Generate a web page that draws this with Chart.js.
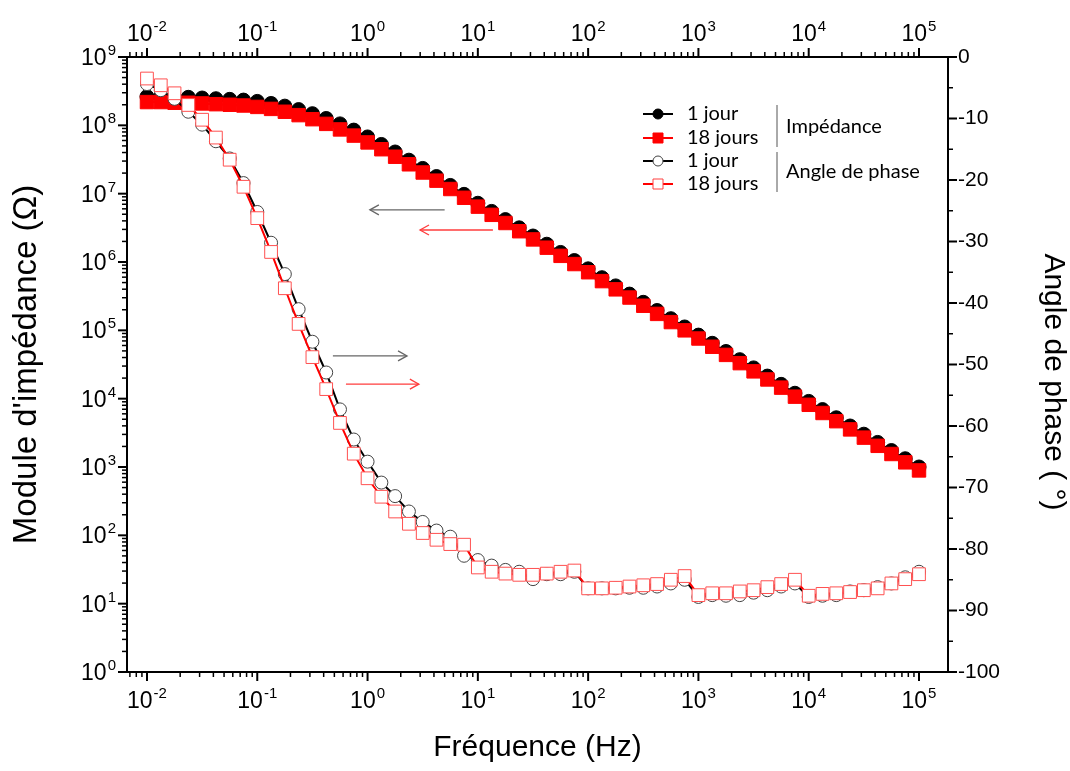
<!DOCTYPE html>
<html>
<head>
<meta charset="utf-8">
<script src="https://cdn.jsdelivr.net/npm/chart.js@4.4.1/dist/chart.umd.min.js"></script>
<style>
  html, body { margin: 0; padding: 0; background: #fff; }
  #graphique { display: block; }
</style>
</head>
<body>
<canvas id="graphique" width="1070" height="771"></canvas>
<script>
// Fréquences mesurées (8 points par décade)
const frequences = [0.01, 0.01334, 0.01778, 0.02371, 0.03162, 0.04217, 0.05623, 0.07499,
  0.1, 0.1334, 0.1778, 0.2371, 0.3162, 0.4217, 0.5623, 0.7499,
  1, 1.334, 1.778, 2.371, 3.162, 4.217, 5.623, 7.499,
  10, 13.34, 17.78, 23.71, 31.62, 42.17, 56.23, 74.99,
  100, 133.4, 177.8, 237.1, 316.2, 421.7, 562.3, 749.9,
  1000, 1334, 1778, 2371, 3162, 4217, 5623, 7499,
  10000, 13340, 17780, 23710, 31620, 42170, 56230, 74990,
  100000];

// Module d'impédance (Ohm)
const impedance1j = [2.63e8, 2.63e8, 2.57e8, 2.57e8, 2.51e8, 2.45e8, 2.40e8, 2.34e8,
  2.24e8, 2.09e8, 1.91e8, 1.70e8, 1.48e8, 1.26e8, 1.05e8, 8.51e7,
  6.76e7, 5.25e7, 4.07e7, 3.09e7, 2.34e7, 1.78e7, 1.32e7, 9.77e6,
  7.24e6, 5.50e6, 4.17e6, 3.16e6, 2.40e6, 1.82e6, 1.38e6, 1.05e6,
  7.94e5, 5.89e5, 4.47e5, 3.39e5, 2.57e5, 1.95e5, 1.48e5, 1.12e5,
  8.51e4, 6.46e4, 4.90e4, 3.72e4, 2.82e4, 2.14e4, 1.62e4, 1.20e4,
  9.12e3, 6.92e3, 5.25e3, 3.98e3, 3.02e3, 2.29e3, 1.74e3, 1.32e3,
  1.00e3];
const impedance18j = [2.19e8, 2.19e8, 2.14e8, 2.14e8, 2.09e8, 2.04e8, 2.00e8, 1.95e8,
  1.86e8, 1.74e8, 1.58e8, 1.41e8, 1.23e8, 1.05e8, 8.71e7, 7.08e7,
  5.62e7, 4.47e7, 3.47e7, 2.69e7, 2.04e7, 1.55e7, 1.17e7, 8.71e6,
  6.46e6, 4.90e6, 3.72e6, 2.82e6, 2.14e6, 1.62e6, 1.23e6, 9.33e5,
  7.08e5, 5.25e5, 3.98e5, 3.02e5, 2.29e5, 1.74e5, 1.32e5, 1.00e5,
  7.59e4, 5.75e4, 4.37e4, 3.31e4, 2.51e4, 1.91e4, 1.45e4, 1.07e4,
  8.13e3, 6.17e3, 4.68e3, 3.55e3, 2.69e3, 2.04e3, 1.55e3, 1.17e3,
  8.91e2];

// Angle de phase (degrés)
const phase1j = [-4.4, -5.4, -6.8, -8.9, -11.0, -13.7, -16.5, -20.5,
  -25.2, -30.2, -35.3, -41.0, -46.3, -51.3, -57.3, -62.2,
  -65.8, -69.2, -71.4, -73.9, -75.6, -77.0, -78.0, -81.1,
  -81.8, -82.7, -83.4, -83.7, -84.9, -84.1, -84.1, -83.7,
  -86.4, -86.4, -86.4, -86.3, -86.3, -86.1, -85.6, -85.0,
  -87.8, -87.5, -87.6, -87.5, -87.1, -86.7, -86.1, -85.6,
  -87.8, -87.6, -87.5, -86.9, -86.7, -86.2, -85.6, -84.6,
  -83.7];
const phase18j = [-3.5, -4.6, -5.9, -7.8, -10.2, -13.1, -16.7, -21.1,
  -26.2, -31.7, -37.6, -43.4, -48.8, -54.0, -59.5, -64.5,
  -68.5, -71.5, -73.9, -75.9, -77.4, -78.5, -79.2, -79.3,
  -83.0, -83.7, -84.0, -84.2, -84.2, -84.0, -83.7, -83.5,
  -86.4, -86.4, -86.3, -86.1, -85.9, -85.7, -85.0, -84.4,
  -87.5, -87.2, -87.2, -86.9, -86.7, -86.2, -85.7, -85.0,
  -87.6, -87.3, -87.2, -87.0, -86.7, -86.4, -85.6, -84.9,
  -84.1];

// Étiquettes des axes
const exposantsFrequence = [-2, -1, 0, 1, 2, 3, 4, 5];
const exposantsModule = [0, 1, 2, 3, 4, 5, 6, 7, 8, 9];
const anglesPhase = [0, -10, -20, -30, -40, -50, -60, -70, -80, -90, -100];

const ROUGE = '#ff0000';
const POLICE_AXE = '"Liberation Sans", Arial, sans-serif';
const POLICE_TICK = '"Liberation Sans Narrow", "Liberation Sans", Arial, sans-serif';
const POLICE_LEGENDE = 'Lato, "Open Sans", sans-serif';

function points(valeurs) {
  return frequences.map((f, i) => ({ x: f, y: valeurs[i] }));
}

// "10" avec l'exposant en petit
function puissanceDix(ctx, exposant, x, y, align) {
  const grand = '23px ' + POLICE_TICK, petit = '15px ' + POLICE_TICK;
  ctx.font = grand;
  const wb = ctx.measureText('10').width;
  ctx.font = petit;
  const we = ctx.measureText(String(exposant)).width;
  const total = wb + 1 + we;
  let x0 = x;
  if (align === 'center') x0 = x - total / 2;
  if (align === 'right') x0 = x - total;
  ctx.textAlign = 'left';
  ctx.textBaseline = 'alphabetic';
  ctx.font = grand;
  ctx.fillText('10', x0, y);
  ctx.font = petit;
  ctx.fillText(String(exposant), x0 + wb + 1, y - 10);
}

function valeursLog(min, max) {
  const res = [];
  for (let e = Math.floor(Math.log10(min)); e <= Math.ceil(Math.log10(max)); e++) {
    for (let m = 1; m <= 9; m++) {
      const v = m * Math.pow(10, e);
      if (v >= min * 0.9999 && v <= max * 1.0001) res.push({ v, majeur: m === 1 });
    }
  }
  return res;
}

function trait(ctx, x1, y1, x2, y2) {
  ctx.beginPath();
  ctx.moveTo(x1, y1);
  ctx.lineTo(x2, y2);
  ctx.stroke();
}

const fondBlanc = {
  id: 'fondBlanc',
  beforeDraw(chart) {
    const ctx = chart.ctx;
    ctx.save();
    ctx.fillStyle = '#fff';
    ctx.fillRect(0, 0, chart.width, chart.height);
    ctx.restore();
  }
};

// Cadre, graduations et étiquettes
const axes = {
  id: 'axes',
  afterDraw(chart) {
    const { ctx, chartArea: a, scales } = chart;
    ctx.save();
    ctx.strokeStyle = '#000';
    ctx.fillStyle = '#000';

    valeursLog(scales.x.min, scales.x.max).forEach(t => {
      const px = scales.x.getPixelForValue(t.v);
      const l = t.majeur ? 9 : 5;
      ctx.lineWidth = t.majeur ? 2 : 1.5;
      trait(ctx, px, a.bottom, px, a.bottom + l);
      trait(ctx, px, a.top, px, a.top - l);
    });
    valeursLog(scales.y.min, scales.y.max).forEach(t => {
      const py = scales.y.getPixelForValue(t.v);
      const l = t.majeur ? 9 : 5;
      ctx.lineWidth = t.majeur ? 2 : 1.5;
      trait(ctx, a.left, py, a.left - l, py);
    });
    for (let v = -100; v <= 0; v += 5) {
      const py = scales.y2.getPixelForValue(v);
      const majeur = v % 10 === 0;
      ctx.lineWidth = majeur ? 2 : 1.5;
      trait(ctx, a.right, py, a.right + (majeur ? 9 : 5), py);
    }

    ctx.lineWidth = 2;
    ctx.strokeRect(a.left, a.top, a.right - a.left, a.bottom - a.top);

    exposantsFrequence.forEach(e => {
      const px = scales.x.getPixelForValue(Math.pow(10, e));
      puissanceDix(ctx, e, px, a.bottom + 36, 'center');
      puissanceDix(ctx, e, px, a.top - 16, 'center');
    });
    exposantsModule.forEach(e => {
      const py = scales.y.getPixelForValue(Math.pow(10, e));
      puissanceDix(ctx, e, a.left - 11, py + 8, 'right');
    });
    ctx.font = '21px ' + POLICE_AXE;
    ctx.textAlign = 'left';
    ctx.textBaseline = 'middle';
    anglesPhase.forEach(v => {
      ctx.fillText(String(v), a.right + 10, scales.y2.getPixelForValue(v));
    });

    // titre de l'axe de droite, un peu plus bas que le centre comme sur l'original
    ctx.translate(1053, 382);
    ctx.rotate(Math.PI / 2);
    ctx.font = '30px ' + POLICE_AXE;
    ctx.textAlign = 'center';
    ctx.fillText('Angle de phase ( °)', 0, 0);
    ctx.restore();
  }
};

// Flèches indiquant l'axe de chaque famille de courbes
const fleches = [
  { axe: 'y', de: [5.0, 5.8e6], a: [1.05, 5.8e6], couleur: '#666666' },
  { axe: 'y', de: [13.7, 2.94e6], a: [2.99, 2.94e6], couleur: '#ff3c3c' },
  { axe: 'y2', de: [0.485, -48.6], a: [2.28, -48.6], couleur: '#666666' },
  { axe: 'y2', de: [0.637, -53.2], a: [2.92, -53.2], couleur: '#ff3c3c' }
];

const pluginFleches = {
  id: 'fleches',
  afterDatasetsDraw(chart) {
    const { ctx, scales } = chart;
    ctx.save();
    ctx.lineWidth = 1.3;
    fleches.forEach(f => {
      const x1 = scales.x.getPixelForValue(f.de[0]);
      const x2 = scales.x.getPixelForValue(f.a[0]);
      const y = scales[f.axe].getPixelForValue(f.de[1]);
      const sens = x2 > x1 ? 1 : -1;
      ctx.strokeStyle = f.couleur;
      trait(ctx, x1, y, x2, y);
      ctx.beginPath();
      ctx.moveTo(x2 - sens * 9, y - 5);
      ctx.lineTo(x2, y);
      ctx.lineTo(x2 - sens * 9, y + 5);
      ctx.stroke();
    });
    ctx.restore();
  }
};

// Légende avec les accolades "Impédance" / "Angle de phase"
const legende = {
  id: 'legende',
  afterDatasetsDraw(chart) {
    const ctx = chart.ctx;
    const lignes = [
      { texte: '1 jour', couleur: '#000', forme: 'rond', plein: true, y: 114 },
      { texte: '18 jours', couleur: ROUGE, forme: 'carre', plein: true, y: 138 },
      { texte: '1 jour', couleur: '#000', forme: 'rond', plein: false, y: 161 },
      { texte: '18 jours', couleur: ROUGE, forme: 'carre', plein: false, y: 184 }
    ];
    ctx.save();
    lignes.forEach(l => {
      ctx.strokeStyle = l.couleur;
      ctx.lineWidth = 2;
      trait(ctx, 643, l.y, 673, l.y);
      ctx.beginPath();
      if (l.forme === 'rond') ctx.arc(658, l.y, 5, 0, Math.PI * 2);
      else ctx.rect(653, l.y - 5, 10, 10);
      ctx.fillStyle = l.plein ? l.couleur : '#fff';
      ctx.fill();
      ctx.lineWidth = 1;
      ctx.strokeStyle = l.plein ? l.couleur : (l.forme === 'rond' ? '#444' : '#ff4040');
      ctx.stroke();
      ctx.fillStyle = '#000';
      ctx.font = '20px ' + POLICE_LEGENDE;
      ctx.textAlign = 'left';
      ctx.textBaseline = 'middle';
      ctx.fillText(l.texte, 687, l.y);
    });
    ctx.strokeStyle = '#555';
    ctx.lineWidth = 1;
    trait(ctx, 777, 105, 777, 147);
    trait(ctx, 777, 152, 777, 192);
    ctx.fillStyle = '#000';
    ctx.fillText('Impédance', 786, 127);
    ctx.fillText('Angle de phase', 786, 172);
    ctx.restore();
  }
};

const ctx = document.getElementById('graphique').getContext('2d');
new Chart(ctx, {
  type: 'line',
  data: {
    datasets: [
      {
        label: 'Impédance 1 jour',
        data: points(impedance1j),
        yAxisID: 'y',
        order: 4,
        borderColor: '#000',
        borderWidth: 2,
        pointStyle: 'circle',
        pointRadius: 7,
        pointBackgroundColor: '#000',
        pointBorderColor: '#000',
        pointBorderWidth: 1
      },
      {
        label: 'Impédance 18 jours',
        data: points(impedance18j),
        yAxisID: 'y',
        order: 3,
        borderColor: ROUGE,
        borderWidth: 2,
        pointStyle: 'rect',
        pointRadius: 9.5,
        pointBackgroundColor: ROUGE,
        pointBorderColor: ROUGE,
        pointBorderWidth: 1
      },
      {
        label: 'Phase 1 jour',
        data: points(phase1j),
        yAxisID: 'y2',
        order: 2,
        borderColor: '#000',
        borderWidth: 2,
        pointStyle: 'circle',
        pointRadius: 6.5,
        pointBackgroundColor: '#fff',
        pointBorderColor: '#444',
        pointBorderWidth: 1
      },
      {
        label: 'Phase 18 jours',
        data: points(phase18j),
        yAxisID: 'y2',
        order: 1,
        borderColor: ROUGE,
        borderWidth: 2,
        pointStyle: 'rect',
        pointRadius: 9,
        pointBackgroundColor: '#fff',
        pointBorderColor: '#ff5050',
        pointBorderWidth: 1
      }
    ]
  },
  options: {
    responsive: false,
    animation: false,
    devicePixelRatio: 1,
    layout: { padding: 0 },
    elements: { line: { tension: 0 } },
    plugins: {
      legend: { display: false },
      tooltip: { enabled: false }
    },
    scales: {
      x: {
        type: 'logarithmic',
        position: 'bottom',
        min: 0.00659,
        max: 1.832e5,
        grid: { display: false },
        border: { display: false },
        ticks: { display: false },
        title: {
          display: true,
          text: 'Fréquence (Hz)',
          color: '#000',
          font: { family: POLICE_AXE, size: 30 },
          padding: { top: 0, bottom: 5 }
        },
        afterFit: s => { s.height = 99; }
      },
      x2: {
        type: 'logarithmic',
        position: 'top',
        min: 0.00659,
        max: 1.832e5,
        grid: { display: false },
        border: { display: false },
        ticks: { display: false },
        afterFit: s => { s.height = 57; }
      },
      y: {
        type: 'logarithmic',
        position: 'left',
        min: 1,
        max: 1e9,
        grid: { display: false },
        border: { display: false },
        ticks: { display: false },
        title: {
          display: true,
          text: "Module d'impédance (Ω)",
          color: '#000',
          font: { family: POLICE_AXE, size: 33 },
          padding: { top: 7, bottom: 0 }
        },
        afterFit: s => { s.width = 127; }
      },
      y2: {
        type: 'linear',
        position: 'right',
        min: -100,
        max: 0,
        grid: { display: false },
        border: { display: false },
        ticks: { display: false },
        afterFit: s => { s.width = 122; }
      }
    }
  },
  plugins: [fondBlanc, axes, pluginFleches, legende]
});
</script>
</body>
</html>
